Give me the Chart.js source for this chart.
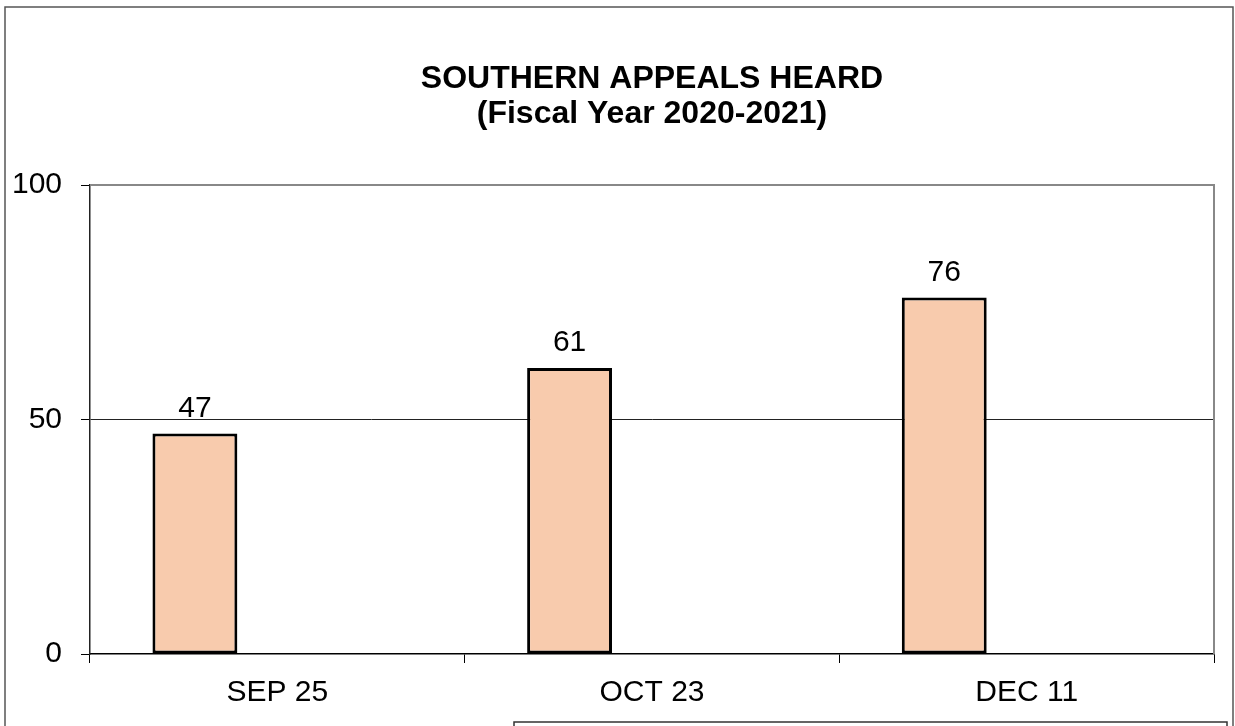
<!DOCTYPE html>
<html>
<head>
<meta charset="utf-8">
<title>Southern Appeals Heard</title>
<script src="https://cdn.jsdelivr.net/npm/chart.js@4/dist/chart.umd.min.js"></script>
<style>
  html, body { margin: 0; padding: 0; background: #fff; }
  canvas { display: block; }
</style>
</head>
<body>
<canvas id="myChart" width="1235" height="726"></canvas>
<script>
const hearings = ['SEP 25', 'OCT 23', 'DEC 11'];
const appealsHeard = [47, 61, 76];
const emptySeries = [null, null, null];
const yTicks = [0, 50, 100];

const ctx = document.getElementById('myChart');

// grey plot frame, outer chart border and the cut-off legend box
const framePlugin = {
    id: 'frame',
    afterDraw(chart) {
        const c = chart.ctx;
        const a = chart.chartArea;
        c.save();
        c.strokeStyle = '#888';
        c.lineWidth = 2;
        c.beginPath();
        c.moveTo(a.left, a.top);
        c.lineTo(a.right, a.top);
        c.lineTo(a.right, a.bottom);
        c.stroke();

        c.strokeStyle = '#555';
        c.lineWidth = 1.5;
        c.strokeRect(5, 7, 1228, 800);

        c.strokeStyle = '#333';
        c.lineWidth = 1.5;
        c.strokeRect(514, 722, 713, 60);
        c.restore();
    }
};

const valueLabels = {
    id: 'valueLabels',
    afterDatasetsDraw(chart) {
        const c = chart.ctx;
        const meta = chart.getDatasetMeta(0);
        c.save();
        c.font = '30px "Liberation Sans", Arial, sans-serif';
        c.fillStyle = '#000';
        c.textAlign = 'center';
        c.textBaseline = 'alphabetic';
        meta.data.forEach((bar, i) => {
            const v = appealsHeard[i];
            if (v == null) return;
            c.fillText(String(v), bar.x, bar.y - 17);
        });
        c.restore();
    }
};

new Chart(ctx, {
    type: 'bar',
    data: {
        labels: hearings,
        datasets: [{
            label: 'Appeals Heard',
            data: appealsHeard,
            backgroundColor: '#F8CBAD',
            borderColor: '#000',
            borderWidth: 3,
            borderSkipped: false,
            categoryPercentage: 0.88,
            barPercentage: 0.515
        }, {
            label: '',
            data: emptySeries,
            backgroundColor: '#F8CBAD',
            categoryPercentage: 0.88,
            barPercentage: 0.515
        }]
    },
    options: {
        responsive: false,
        animation: false,
        devicePixelRatio: 1,
        layout: {
            padding: { top: 61, left: 0, right: 21, bottom: 0 }
        },
        plugins: {
            legend: { display: false },
            tooltip: { enabled: false },
            title: {
                display: true,
                fullSize: false,
                text: ['SOUTHERN APPEALS HEARD', '(Fiscal Year 2020-2021)'],
                color: '#000',
                font: {
                    family: '"Liberation Sans", Arial, sans-serif',
                    size: 32,
                    weight: 'bold',
                    lineHeight: 35.5 / 32
                },
                padding: { top: 0, bottom: 53 }
            }
        },
        scales: {
            x: {
                afterFit(scale) { scale.height = 72; },
                grid: {
                    drawOnChartArea: false,
                    drawTicks: true,
                    tickLength: 9,
                    color: '#000',
                    lineWidth: 1
                },
                border: { display: true, color: '#000', width: 1.5 },
                ticks: {
                    color: '#000',
                    padding: 12,
                    font: { family: '"Liberation Sans", Arial, sans-serif', size: 30 }
                }
            },
            y: {
                min: 0,
                max: 100,
                afterFit(scale) { scale.width = 90; },
                afterBuildTicks(scale) {
                    scale.ticks = yTicks.map(v => ({ value: v }));
                },
                grid: {
                    color: (c) => c.tick && c.tick.value === 50 ? '#222' : 'rgba(0,0,0,0)',
                    tickColor: '#000',
                    tickLength: 9,
                    lineWidth: 1
                },
                border: { display: true, color: '#222', width: 1.5 },
                ticks: {
                    color: '#000',
                    padding: 19,
                    font: { family: '"Liberation Sans", Arial, sans-serif', size: 30 }
                }
            }
        }
    },
    plugins: [framePlugin, valueLabels]
});
</script>
</body>
</html>
